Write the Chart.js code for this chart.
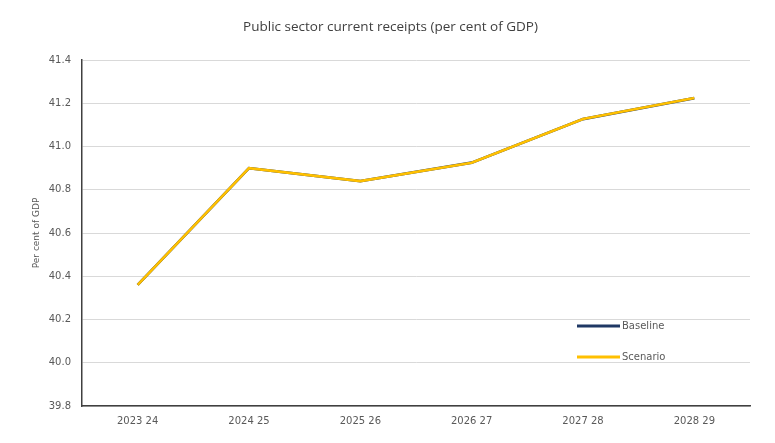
<!DOCTYPE html>
<html>
<head>
<meta charset="utf-8">
<script src="https://cdn.jsdelivr.net/npm/chart.js@4/dist/chart.umd.min.js"></script>
<style>
  html, body { margin: 0; padding: 0; background: #ffffff; }
  #wrap { width: 775px; height: 443px; position: relative; }
</style>
</head>
<body>
<div id="wrap"><canvas id="c" width="775" height="443"></canvas></div>
<script>
const categories = ["2023 24", "2024 25", "2025 26", "2026 27", "2027 28", "2028 29"];
const baselineValues = [40.36, 40.90, 40.84, 40.925, 41.127, 41.224];
const scenarioValues = [40.36, 40.90, 40.84, 40.925, 41.127, 41.224];
const seriesNames = ["Baseline", "Scenario"];
const chartTitle = "Public sector current receipts (per cent of GDP)";
const yAxisTitle = "Per cent of GDP";
const yMin = 39.8, yMax = 41.4, yStep = 0.2;

const legendInside = {
  id: 'legendInside',
  afterDraw(chart) {
    const ctx = chart.ctx;
    const a = chart.chartArea;
    const x0 = a.right - 173;
    const ys = [a.top + 266, a.top + 297];
    ctx.save();
    chart.data.datasets.forEach((ds, i) => {
      const y = ys[i];
      ctx.beginPath();
      ctx.strokeStyle = ds.borderColor;
      ctx.lineWidth = 3;
      ctx.moveTo(x0, y);
      ctx.lineTo(x0 + 43, y);
      ctx.stroke();
      ctx.fillStyle = '#595959';
      ctx.font = '10px "DejaVu Sans"';
      ctx.textBaseline = 'middle';
      ctx.textAlign = 'left';
      ctx.fillText(ds.label, x0 + 45, y);
    });
    ctx.restore();
  }
};

new Chart(document.getElementById('c'), {
  type: 'line',
  data: {
    labels: categories,
    datasets: [
      { label: seriesNames[0], data: baselineValues, borderColor: '#1f3864', backgroundColor: '#1f3864', borderWidth: 2.8, pointRadius: 0, tension: 0, order: 2 },
      { label: seriesNames[1], data: scenarioValues, borderColor: '#ffc000', backgroundColor: '#ffc000', borderWidth: 2.6, pointRadius: 0, tension: 0, order: 1 }
    ]
  },
  options: {
    responsive: false,
    animation: false,
    devicePixelRatio: 1,
    layout: { padding: { left: 31, right: 25, top: 0, bottom: 0 } },
    plugins: {
      legend: { display: false },
      tooltip: { enabled: false },
      title: {
        display: true,
        text: chartTitle,
        color: '#404040',
        font: { family: '"Open Sans"', size: 13.5, weight: 'normal' },
        padding: { top: 19, bottom: 24.8 }
      }
    },
    scales: {
      x: {
        offset: true,
        grid: { display: false, drawTicks: false },
        border: { display: true, color: '#404040', width: 1.5 },
        ticks: { color: '#595959', font: { family: '"DejaVu Sans"', size: 10 }, padding: 9, maxRotation: 0 },
        afterFit(s) { s.height = 37; }
      },
      y: {
        min: yMin, max: yMax,
        grid: { color: '#d9d9d9', lineWidth: 1, drawTicks: false },
        border: { display: true, color: '#404040', width: 1.5 },
        ticks: { stepSize: yStep, color: '#595959', font: { family: '"DejaVu Sans"', size: 10 }, padding: 11,
                 callback: v => Number(v).toFixed(1) },
        title: { display: true, text: yAxisTitle, color: '#595959', font: { family: '"DejaVu Sans"', size: 9 }, padding: { top: 0, bottom: 0 } },
        afterFit(s) { s.width = 51; }
      }
    }
  },
  plugins: [legendInside]
});
</script>
</body>
</html>
